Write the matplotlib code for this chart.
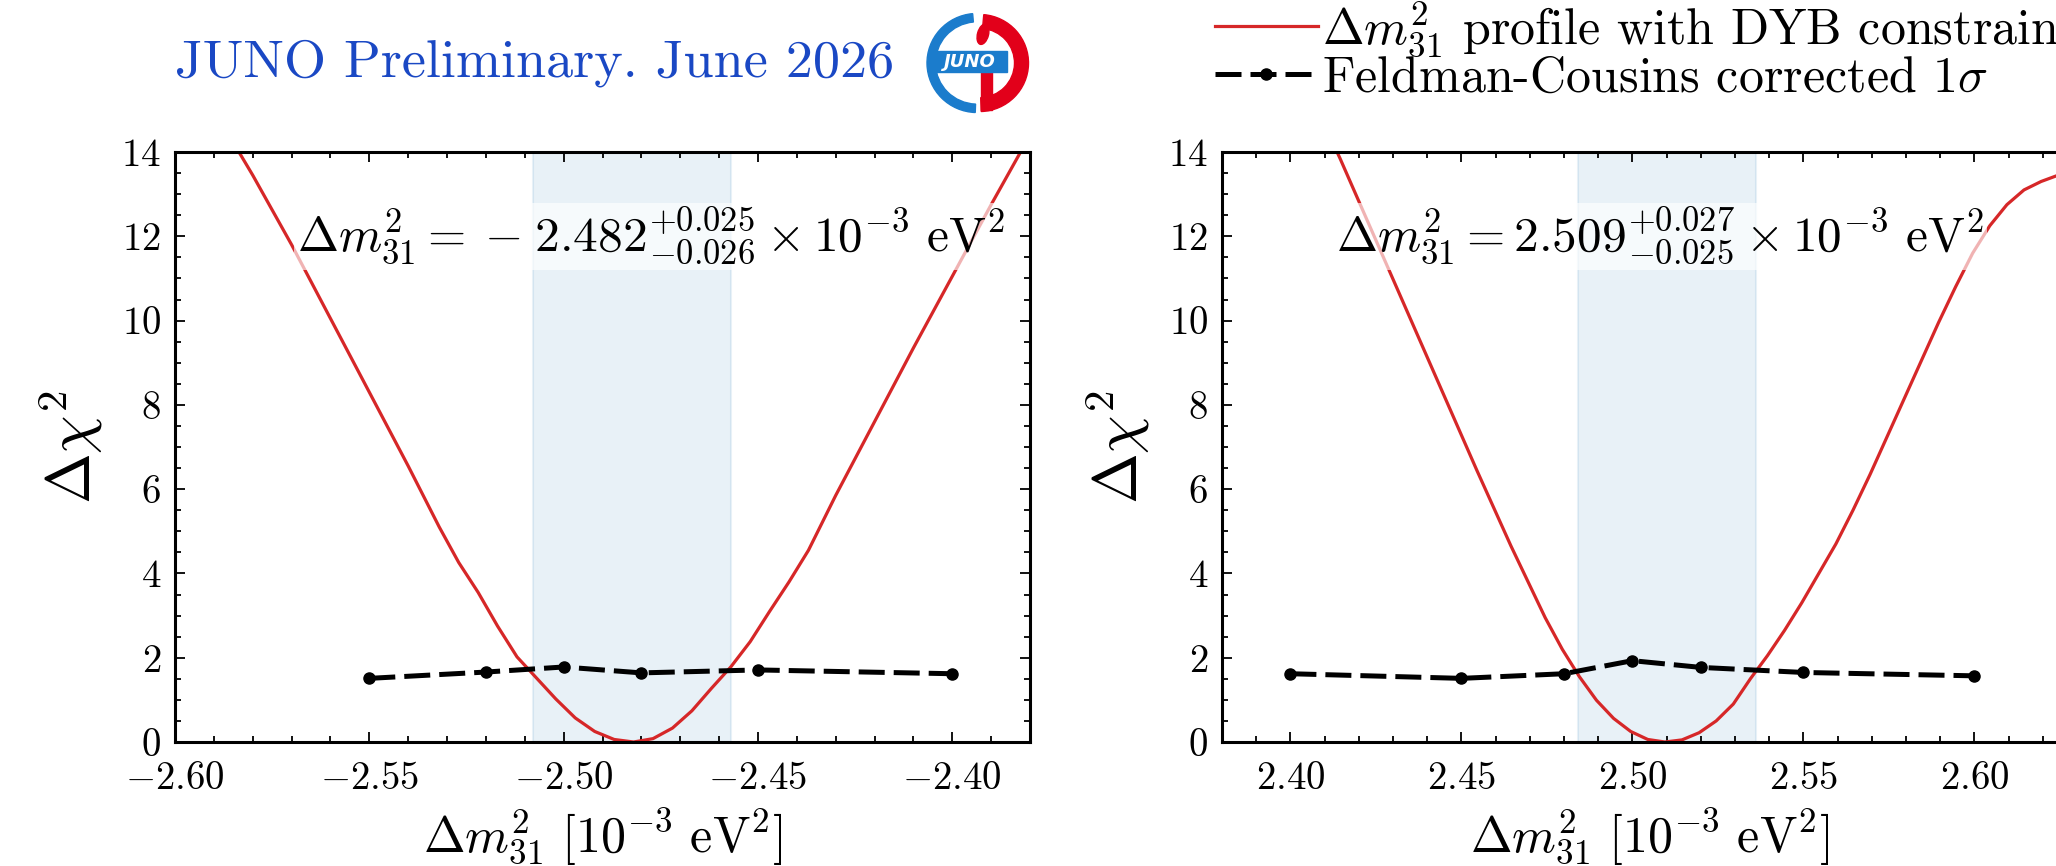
import matplotlib
matplotlib.use("Agg")
import matplotlib.pyplot as plt
from matplotlib.ticker import MultipleLocator, FuncFormatter
from matplotlib.patches import Wedge, Rectangle, Ellipse

plt.rcParams['font.family'] = 'serif'
plt.rcParams['font.serif'] = ['cmr10']
plt.rcParams['mathtext.fontset'] = 'cm'
plt.rcParams['axes.formatter.use_mathtext'] = True
plt.rcParams['axes.unicode_minus'] = True

# profile, inverted ordering (left panel)
io_x = [-2.590, -2.580, -2.570, -2.560, -2.550, -2.540, -2.532, -2.527, -2.522,
        -2.517, -2.512, -2.507, -2.502, -2.497, -2.492, -2.487, -2.482, -2.477,
        -2.472, -2.467, -2.462, -2.457, -2.452, -2.447, -2.442, -2.437, -2.430,
        -2.420, -2.410, -2.400, -2.390, -2.380]
io_chi2 = [15.0, 13.45, 11.8, 10.05, 8.3, 6.55, 5.1, 4.26, 3.55,
           2.75, 2.02, 1.52, 1.02, 0.57, 0.25, 0.06, 0.0, 0.08,
           0.33, 0.74, 1.27, 1.78, 2.38, 3.1, 3.8, 4.55, 5.85,
           7.6, 9.35, 11.05, 12.75, 14.4]
io_fc_x = [-2.55, -2.52, -2.50, -2.48, -2.45, -2.40]
io_fc_y = [1.51, 1.66, 1.78, 1.64, 1.71, 1.62]
io_best, io_lo, io_hi = -2.482, -2.508, -2.457

# profile, normal ordering (right panel)
no_x = [2.4045, 2.4145, 2.4245, 2.4345, 2.4445, 2.4545, 2.4645, 2.4695, 2.4745,
        2.4795, 2.4845, 2.4895, 2.4945, 2.4995, 2.5045, 2.5095, 2.5145, 2.5195,
        2.5245, 2.5295, 2.5345, 2.5395, 2.5445, 2.5495, 2.5545, 2.5595, 2.5645,
        2.5695, 2.5745, 2.5795, 2.5845, 2.5895, 2.5945, 2.5995, 2.6045, 2.6095,
        2.6145, 2.6195, 2.6245, 2.6295]
no_chi2 = [15.6, 13.85, 12.0, 10.15, 8.3, 6.45, 4.65, 3.8, 2.95,
           2.2, 1.55, 0.99, 0.56, 0.25, 0.06, 0.0, 0.05, 0.22,
           0.5, 0.9, 1.5, 2.05, 2.65, 3.3, 4.0, 4.7, 5.5,
           6.35, 7.25, 8.15, 9.05, 9.95, 10.8, 11.6, 12.25, 12.75,
           13.1, 13.3, 13.45, 13.55]
no_fc_x = [2.40, 2.45, 2.48, 2.50, 2.52, 2.55, 2.60]
no_fc_y = [1.62, 1.51, 1.62, 1.93, 1.77, 1.65, 1.57]
no_best, no_lo, no_hi = 2.509, 2.484, 2.536

io_text = r'$\Delta m^2_{31} =\: -\;2.482^{+0.025}_{-0.026} \times 10^{-3}\ \mathrm{eV}^2$'
no_text = r'$\Delta m^2_{31} = 2.509^{+0.027}_{-0.025} \times 10^{-3}\ \mathrm{eV}^2$'

W, H = 2056, 866
fig = plt.figure(figsize=(W / 100, H / 100), dpi=100)

def px_axes(x0, y0, w, h):
    return fig.add_axes([x0 / W, 1 - (y0 + h) / H, w / W, h / H])

ax1 = px_axes(175, 152, 855, 590)
ax2 = px_axes(1222, 152, 855, 590)

def style(ax, xlim):
    ax.set_xlim(*xlim)
    ax.set_ylim(0, 14)
    ax.xaxis.set_major_locator(MultipleLocator(0.05))
    ax.xaxis.set_minor_locator(MultipleLocator(0.01))
    ax.yaxis.set_major_locator(MultipleLocator(2))
    ax.yaxis.set_minor_locator(MultipleLocator(0.5))
    ax.xaxis.set_major_formatter(FuncFormatter(lambda v, p: r'$%.2f$' % v))
    ax.yaxis.set_major_formatter(FuncFormatter(lambda v, p: r'$%d$' % round(v)))
    ax.tick_params(which='both', direction='in', top=True, right=True, labelsize=28, width=1.3)
    ax.tick_params(which='major', length=7, pad=10)
    ax.tick_params(axis='x', which='major', pad=14)
    ax.tick_params(which='minor', length=4.5)
    for s in ax.spines.values():
        s.set_linewidth(2.2)
    ax.set_xlabel(r'$\Delta m^2_{31}\ [10^{-3}\ \mathrm{eV}^2]$', fontsize=36, labelpad=7)
    ax.set_ylabel(r'$\Delta\chi^2$', fontsize=44, labelpad=12)

for ax, x, y, fx, fy, best, lo, hi, txt, xl, tx in [
        (ax1, io_x, io_chi2, io_fc_x, io_fc_y, io_best, io_lo, io_hi, io_text, (-2.60, -2.38), -2.4775),
        (ax2, no_x, no_chi2, no_fc_x, no_fc_y, no_best, no_lo, no_hi, no_text, (2.38, 2.63), 2.508)]:
    ax.axvspan(lo, hi, color='C0', alpha=0.1, lw=1.5)
    ax.plot(x, y, color='#d62728', lw=2.3,
            label=r'$\Delta m^2_{31}$ profile with DYB constraint')
    ax.plot(fx, fy, color='k', ls='--', lw=3.6, marker='o', markersize=8, dashes=(5.2, 1.8),
            label=r'Feldman-Cousins corrected $1\sigma$')
    ax.text(tx, 12, txt, fontsize=35.5, ha='center', va='center',
            bbox=dict(facecolor='white', edgecolor='none', alpha=0.65, pad=2))
    style(ax, xl)

fig.text(175 / W, 1 - 63 / H, 'JUNO Preliminary. June 2026', fontsize=39,
         color='#1a48c4', ha='left', va='center')

h, l = ax2.get_legend_handles_labels()
fig.legend(h, l, loc='upper left', bbox_to_anchor=(1190 / W, 1.03), frameon=False,
           fontsize=36, handlelength=2.05, handletextpad=0.08, labelspacing=-0.05,
           borderaxespad=0.1)

# JUNO logo
lg = px_axes(922, 11, 110, 104)
lg.set_xlim(-1.1, 1.1)
lg.set_ylim(-1.05, 1.05)
lg.axis('off')
lg.add_patch(Wedge((0, 0), 1.0, 95, 268, width=0.17, color='#1b7ccc'))
lg.add_patch(Wedge((0.05, 0), 0.98, -88, 85, width=0.28, color='#e2001a'))
lg.add_patch(Ellipse((0.12, 0.58), 0.22, 0.42, angle=-15, color='#e2001a'))
lg.add_patch(Rectangle((0.08, -0.95), 0.22, 0.9, color='#e2001a'))
lg.add_patch(Rectangle((-0.85, -0.18), 1.45, 0.42, color='#1b7ccc'))
lg.text(-0.14, 0.03, 'JUNO', color='white', fontsize=13, fontweight='bold',
        style='italic', family='DejaVu Sans', ha='center', va='center')

fig.savefig('out.png', dpi=100)
